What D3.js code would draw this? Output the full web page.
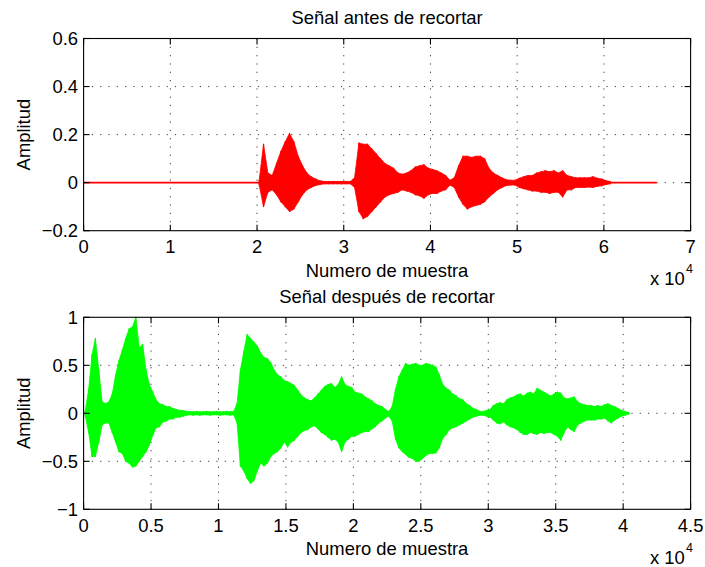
<!DOCTYPE html>
<html><head><meta charset="utf-8">
<script src="https://cdn.jsdelivr.net/npm/d3@7"></script>
<style>body{margin:0;background:#fff} svg{display:block}</style>
</head><body>
<script>
// ---------- DATA ----------
const topTitle = "Señal antes de recortar";
const botTitle = "Señal después de recortar";
const xLabel = "Numero de muestra";
const yLabel = "Amplitud";

const topXTicks = [0, 1, 2, 3, 4, 5, 6, 7];          // x 10^4
const topYTicks = [-0.2, 0, 0.2, 0.4, 0.6];
const botXTicks = [0, 0.5, 1, 1.5, 2, 2.5, 3, 3.5, 4, 4.5]; // x 10^4
const botYTicks = [-1, -0.5, 0, 0.5, 1];

const topLength = 66100;     // samples in original signal
const topStart = 20000;      // first envelope bin
const topBin = 500;          // samples per envelope bin
const topUpper = [0.01,0.16,0.04,0.03,0.08,0.13,0.17,0.205,0.17,0.11,
 0.07,0.04,0.025,0.015,0.008,0.005,0.005,0.005,0.005,0.005,
 0.005,0.005,0.02,0.165,0.16,0.16,0.14,0.12,0.10,0.08,
 0.07,0.06,0.04,0.035,0.04,0.05,0.065,0.07,0.075,0.06,
 0.055,0.05,0.04,0.03,0.01,0.02,0.07,0.11,0.11,0.105,
 0.11,0.11,0.10,0.06,0.04,0.03,0.02,0.012,0.01,0.01,
 0.018,0.025,0.03,0.03,0.04,0.045,0.05,0.045,0.05,0.04,
 0.05,0.03,0.025,0.02,0.02,0.02,0.02,0.025,0.018,0.015,
 0.008,0.005];
const topLower = [-0.01,-0.10,-0.04,-0.03,-0.05,-0.08,-0.10,-0.12,-0.11,-0.08,
 -0.05,-0.03,-0.02,-0.012,-0.008,-0.005,-0.005,-0.005,-0.005,-0.005,
 -0.005,-0.005,-0.02,-0.12,-0.15,-0.14,-0.12,-0.10,-0.08,-0.06,
 -0.05,-0.045,-0.04,-0.03,-0.035,-0.04,-0.05,-0.055,-0.065,-0.05,
 -0.045,-0.045,-0.035,-0.03,-0.01,-0.02,-0.06,-0.09,-0.11,-0.10,
 -0.095,-0.09,-0.08,-0.06,-0.045,-0.03,-0.02,-0.012,-0.01,-0.01,
 -0.02,-0.025,-0.03,-0.035,-0.035,-0.04,-0.04,-0.045,-0.04,-0.04,
 -0.06,-0.03,-0.03,-0.02,-0.02,-0.02,-0.018,-0.02,-0.015,-0.013,
 -0.008,-0.005];

const botLength = 40500;
const botStart = 0;
const botBin = 250;
const botUpper = [0.03,0.25,0.61,0.78,0.45,0.12,0.10,0.12,0.20,0.40,
 0.55,0.66,0.78,0.88,0.90,1.00,0.68,0.72,0.45,0.30,
 0.22,0.14,0.10,0.09,0.07,0.07,0.05,0.04,0.03,0.03,
 0.02,0.02,0.015,0.02,0.015,0.015,0.02,0.015,0.015,0.02,
 0.015,0.015,0.02,0.015,0.02,0.10,0.45,0.64,0.82,0.78,
 0.74,0.70,0.63,0.58,0.57,0.53,0.45,0.40,0.38,0.34,
 0.33,0.31,0.29,0.24,0.19,0.16,0.14,0.13,0.16,0.20,
 0.24,0.28,0.30,0.31,0.27,0.30,0.38,0.30,0.28,0.27,
 0.22,0.21,0.20,0.17,0.15,0.13,0.10,0.08,0.07,0.04,
 0.02,0.07,0.25,0.38,0.45,0.52,0.50,0.51,0.52,0.50,
 0.50,0.52,0.51,0.50,0.48,0.40,0.30,0.26,0.24,0.20,
 0.18,0.15,0.14,0.10,0.08,0.05,0.04,0.02,0.02,0.03,
 0.04,0.08,0.10,0.11,0.10,0.14,0.16,0.17,0.19,0.20,
 0.18,0.21,0.22,0.20,0.26,0.24,0.22,0.20,0.18,0.20,
 0.22,0.21,0.16,0.15,0.16,0.17,0.12,0.10,0.09,0.08,
 0.08,0.07,0.08,0.07,0.09,0.10,0.08,0.07,0.05,0.03,
 0.02,0.01];
const botLower = [-0.03,-0.20,-0.45,-0.45,-0.30,-0.12,-0.10,-0.10,-0.20,-0.30,
 -0.40,-0.42,-0.50,-0.52,-0.56,-0.55,-0.50,-0.45,-0.40,-0.33,
 -0.23,-0.15,-0.14,-0.09,-0.08,-0.06,-0.06,-0.04,-0.04,-0.03,
 -0.02,-0.015,-0.02,-0.015,-0.02,-0.015,-0.015,-0.02,-0.015,-0.015,
 -0.02,-0.015,-0.015,-0.02,-0.015,-0.10,-0.55,-0.60,-0.68,-0.73,
 -0.70,-0.60,-0.52,-0.55,-0.52,-0.45,-0.42,-0.40,-0.36,-0.30,
 -0.35,-0.30,-0.28,-0.24,-0.20,-0.18,-0.17,-0.14,-0.13,-0.16,
 -0.20,-0.22,-0.25,-0.28,-0.27,-0.30,-0.40,-0.30,-0.27,-0.24,
 -0.24,-0.22,-0.20,-0.19,-0.19,-0.16,-0.14,-0.10,-0.08,-0.05,
 -0.03,-0.08,-0.27,-0.36,-0.40,-0.43,-0.46,-0.47,-0.50,-0.50,
 -0.47,-0.44,-0.42,-0.42,-0.41,-0.36,-0.26,-0.22,-0.17,-0.15,
 -0.14,-0.12,-0.10,-0.08,-0.06,-0.04,-0.03,-0.02,-0.02,-0.03,
 -0.04,-0.07,-0.10,-0.11,-0.09,-0.12,-0.14,-0.15,-0.17,-0.20,
 -0.22,-0.22,-0.20,-0.21,-0.22,-0.20,-0.21,-0.20,-0.20,-0.22,
 -0.24,-0.28,-0.20,-0.14,-0.17,-0.19,-0.12,-0.10,-0.08,-0.07,
 -0.07,-0.07,-0.06,-0.06,-0.05,-0.08,-0.10,-0.07,-0.05,-0.03,
 -0.02,-0.01];

// ---------- DRAW ----------
const W = 705, H = 567;
const FONT = "'Liberation Sans', Arial, Helvetica, sans-serif";
const FS = 18.4;
const svg = d3.select("body").append("svg").attr("width", W).attr("height", H);
svg.append("rect").attr("width", W).attr("height", H).attr("fill", "#fff");

function fmt(v){ return (v < 0 ? "\u2212" : "") + String(Math.abs(v)); }

function panel(cfg){
  const x = d3.scaleLinear().domain([cfg.xTicks[0]*1e4, cfg.xTicks[cfg.xTicks.length-1]*1e4]).range([cfg.x0, cfg.x1]);
  const y = d3.scaleLinear().domain([cfg.yTicks[0], cfg.yTicks[cfg.yTicks.length-1]]).range([cfg.y1, cfg.y0]);
  const g = svg.append("g");

  // grid
  const grid = g.append("g").attr("stroke", "#3a3a3a").attr("stroke-width", 1).attr("stroke-dasharray", "1.2,7.1");
  cfg.xTicks.slice(1, -1).forEach(t => {
    grid.append("line").attr("x1", x(t*1e4)).attr("x2", x(t*1e4)).attr("y1", cfg.y0).attr("y2", cfg.y1);
  });
  cfg.yTicks.slice(1, -1).forEach(t => {
    grid.append("line").attr("x1", cfg.x0).attr("x2", cfg.x1).attr("y1", y(t)).attr("y2", y(t));
  });

  // signal: baseline + envelope (bin centres) + per-bin peak strokes
  const sg = g.append("g");
  sg.append("line").attr("x1", x(0)).attr("x2", x(cfg.len)).attr("y1", y(0)).attr("y2", y(0))
    .attr("stroke", cfg.color).attr("stroke-width", 1.7);
  const pts = cfg.upper.map((u, i) => ({s: cfg.start + (i + 0.5)*cfg.bin, u, l: cfg.lower[i]}));
  const area = d3.area().x(d => x(d.s)).y0(d => y(d.l)).y1(d => y(d.u)).curve(d3.curveLinear);
  sg.append("path").datum(pts).attr("d", area).attr("fill", cfg.color)
    .attr("stroke", cfg.color).attr("stroke-width", 0.8).attr("stroke-linejoin", "miter");
  sg.selectAll("line.pk").data(pts).join("line").attr("class", "pk")
    .attr("x1", d => x(d.s)).attr("x2", d => x(d.s))
    .attr("y1", d => y(d.u) - 0.5).attr("y2", d => y(d.l) + 0.5)
    .attr("stroke", cfg.color).attr("stroke-width", 1.2);

  // box
  g.append("rect").attr("x", cfg.x0).attr("y", cfg.y0).attr("width", cfg.x1 - cfg.x0).attr("height", cfg.y1 - cfg.y0)
    .attr("fill", "none").attr("stroke", "#000").attr("stroke-width", 1.1);

  // ticks (inside, all four sides)
  const tk = g.append("g").attr("stroke", "#000").attr("stroke-width", 1.1);
  const TL = 6;
  cfg.xTicks.forEach(t => {
    const px = x(t*1e4);
    tk.append("line").attr("x1", px).attr("x2", px).attr("y1", cfg.y1).attr("y2", cfg.y1 - TL);
    tk.append("line").attr("x1", px).attr("x2", px).attr("y1", cfg.y0).attr("y2", cfg.y0 + TL);
  });
  cfg.yTicks.forEach(t => {
    const py = y(t);
    tk.append("line").attr("x1", cfg.x0).attr("x2", cfg.x0 + TL).attr("y1", py).attr("y2", py);
    tk.append("line").attr("x1", cfg.x1).attr("x2", cfg.x1 - TL).attr("y1", py).attr("y2", py);
  });

  const txt = g.append("g").attr("font-family", FONT).attr("font-size", FS).attr("fill", "#000");
  cfg.xTicks.forEach(t => {
    txt.append("text").attr("x", x(t*1e4)).attr("y", cfg.y1 + 22.5).attr("text-anchor", "middle").text(fmt(t));
  });
  cfg.yTicks.forEach(t => {
    txt.append("text").attr("x", cfg.x0 - 5.6).attr("y", y(t) + 6.6).attr("text-anchor", "end").text(fmt(t));
  });
  txt.append("text").attr("x", (cfg.x0 + cfg.x1)/2).attr("y", cfg.y0 - 14.5).attr("text-anchor", "middle").text(cfg.title);
  txt.append("text").attr("x", (cfg.x0 + cfg.x1)/2).attr("y", cfg.y1 + 46).attr("text-anchor", "middle").text(xLabel);
  txt.append("text").attr("transform", `translate(30,${(cfg.y0 + cfg.y1)/2}) rotate(-90)`).attr("text-anchor", "middle").text(yLabel);
  txt.append("text").attr("x", 650).attr("y", cfg.y1 + 54.3).text("x 10");
  txt.append("text").attr("x", 686).attr("y", cfg.y1 + 42.5).attr("font-size", 12.5).text("4");
}

panel({x0: 83.6, x1: 690.6, y0: 38.5, y1: 230.7, xTicks: topXTicks, yTicks: topYTicks,
  len: topLength, start: topStart, bin: topBin, upper: topUpper, lower: topLower, color: "#ff0000", title: topTitle});
panel({x0: 83.6, x1: 690.6, y0: 317.3, y1: 509.3, xTicks: botXTicks, yTicks: botYTicks,
  len: botLength, start: botStart, bin: botBin, upper: botUpper, lower: botLower, color: "#00ff00", title: botTitle});
</script>
</body></html>
